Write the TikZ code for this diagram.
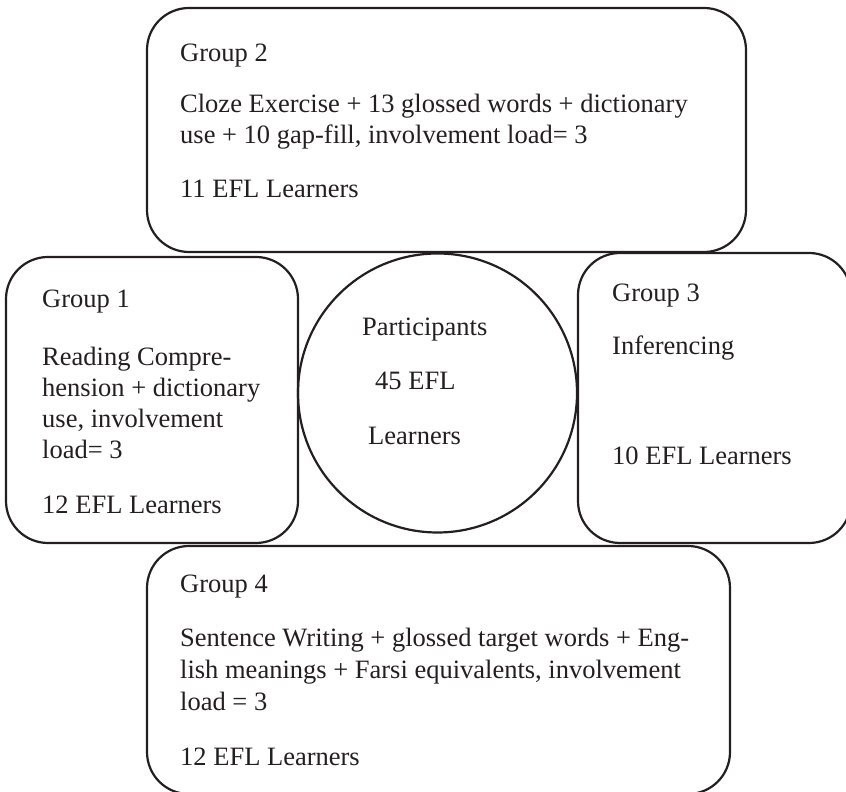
\documentclass[tikz,border=0pt]{standalone}
\usepackage{fontspec}
\setmainfont{Liberation Serif}
\definecolor{ink}{HTML}{231F20}
\begin{document}
\begin{tikzpicture}[x=1pt,y=1pt,
  boxshape/.style={draw=ink, line width=2.2pt, rounded corners=42pt, rectangle, inner sep=0pt},
  ringshape/.style={draw=ink, line width=2.2pt, circle, inner sep=0pt},
  txt/.style={anchor=base west, inner sep=0pt, text=ink, font=\fontsize{26.5}{32}\selectfont}]
\useasboundingbox (0,0) rectangle (846,792);
% boxes (y = 792 - image y)
\node[boxshape, minimum width=599pt, minimum height=244pt] (g2) at (446.5,662) {};
\node[boxshape, minimum width=292pt, minimum height=286pt] (g1) at (152,392) {};
\node[boxshape, minimum width=273pt, minimum height=290pt] (g3) at (714.5,394) {};
\node[boxshape, minimum width=583pt, minimum height=248pt] (g4) at (438.5,122) {};
\node[ringshape, minimum size=279pt] (part) at (437.5,399) {};
% Group 2
\node[txt] (g2a) at (180,730) {Group 2};
\node[txt] (g2b) at (180,679) {Cloze Exercise + 13 glossed words + dictionary};
\node[txt] (g2c) at (180,648) {use + 10 gap-fill, involvement load= 3};
\node[txt] (g2d) at (180,594) {11 EFL Learners};
% Group 1
\node[txt] (g1a) at (42,484) {Group 1};
\node[txt] (g1b) at (42,426) {Reading Compre-};
\node[txt] (g1c) at (42,395) {hension + dictionary};
\node[txt] (g1d) at (42,364) {use, involvement};
\node[txt] (g1e) at (42,333) {load= 3};
\node[txt] (g1f) at (42,278) {12 EFL Learners};
% Participants
\node[txt] (pa) at (362,456) {Participants};
\node[txt] (pb) at (375,402) {45 EFL};
\node[txt] (pc) at (368,347) {Learners};
% Group 3
\node[txt] (g3a) at (612,490) {Group 3};
\node[txt] (g3b) at (612,437) {Inferencing};
\node[txt] (g3c) at (612,327) {10 EFL Learners};
% Group 4
\node[txt] (g4a) at (180,199) {Group 4};
\node[txt] (g4b) at (180,145) {Sentence Writing + glossed target words + Eng-};
\node[txt] (g4c) at (180,113) {lish meanings + Farsi equivalents, involvement};
\node[txt] (g4d) at (180,81) {load = 3};
\node[txt] (g4e) at (180,26) {12 EFL Learners};
\end{tikzpicture}
\end{document}
